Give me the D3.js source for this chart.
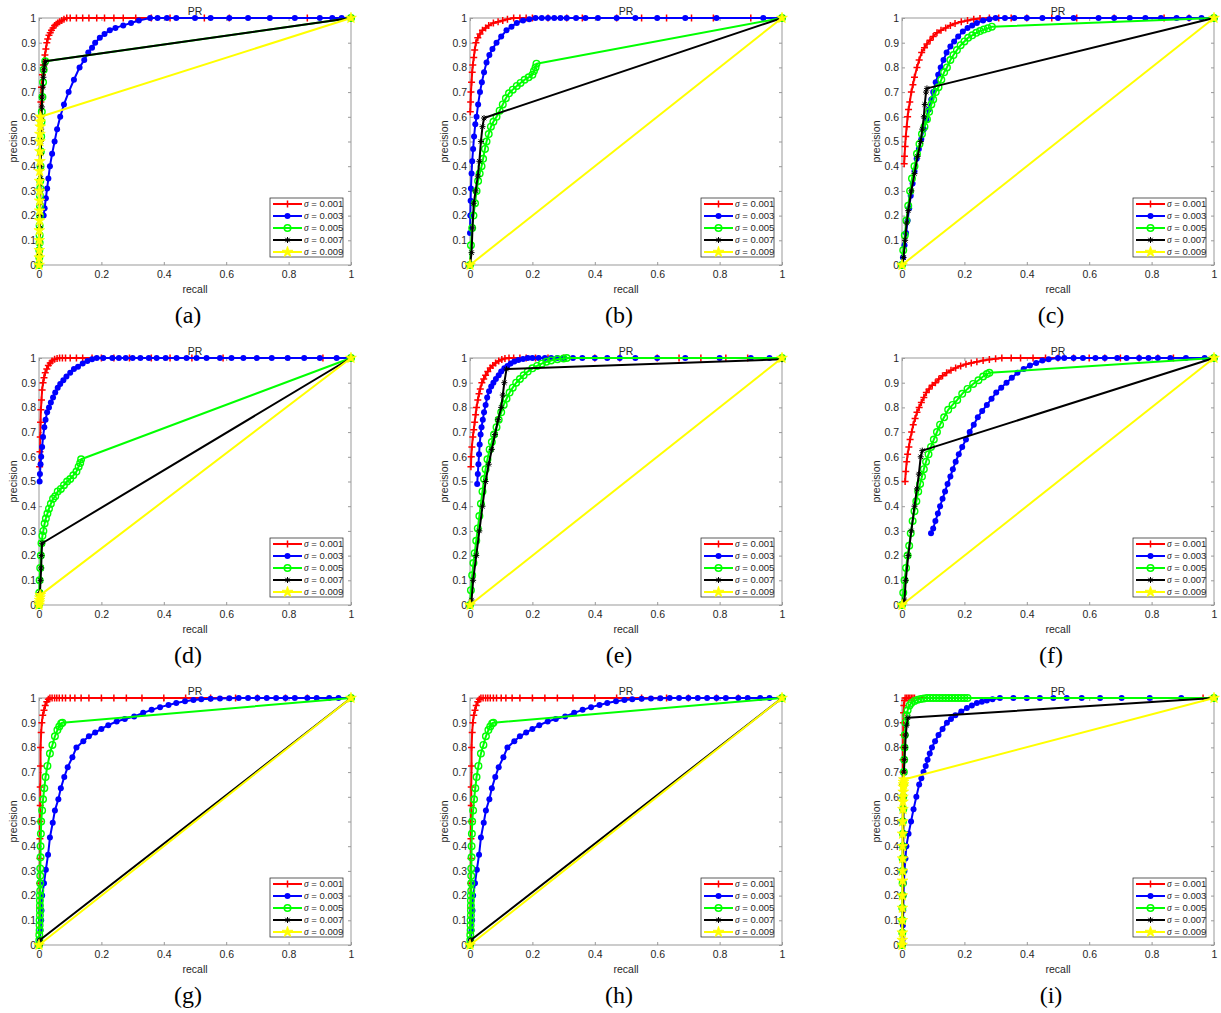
<!DOCTYPE html>
<html>
<head>
<meta charset="utf-8">
<script src="https://cdn.jsdelivr.net/npm/d3@7"></script>
<style>
body { margin: 0; background: #fff; }
svg { display: block; }
.tick text { font-family: "Liberation Sans", Arial, sans-serif; font-size: 10.5px; fill: #262626; }
.lbl { font-family: "Liberation Sans", Arial, sans-serif; font-size: 10.5px; fill: #262626; }
.leg { font-family: "Liberation Sans", Arial, sans-serif; font-size: 9.5px; fill: #262626; }
.sub { font-family: "Liberation Serif", "Times New Roman", serif; font-size: 24px; fill: #000; }
</style>
</head>
<body>
<svg width="1221" height="1013"></svg>
<script>
// [recall, precision] pairs
// (a)
const redA = [[0.004,0.6],[0.006,0.66],[0.008,0.72],[0.011,0.77],[0.014,0.81],[0.019,0.85],[0.022,0.875],[0.025,0.9],[0.028,0.915],[0.032,0.93],[0.036,0.94],[0.04,0.95],[0.045,0.96],[0.05,0.97],[0.055,0.975],[0.06,0.98],[0.066,0.985],[0.073,0.99],[0.08,0.995],[0.089,1],[0.1,1],[0.12,1],[0.14,1],[0.16,1],[0.185,1],[0.21,1],[0.24,1],[0.27,1],[0.31,1],[0.36,1],[0.42,1],[0.53,1],[0.61,1],[0.86,1],[1,1]];
const blueA = [[0.015,0.2],[0.018,0.23],[0.022,0.27],[0.026,0.31],[0.03,0.35],[0.035,0.4],[0.042,0.45],[0.05,0.5],[0.058,0.55],[0.068,0.6],[0.08,0.65],[0.095,0.7],[0.112,0.75],[0.13,0.8],[0.145,0.83],[0.158,0.86],[0.17,0.88],[0.18,0.9],[0.195,0.92],[0.21,0.935],[0.227,0.95],[0.245,0.96],[0.27,0.97],[0.295,0.98],[0.32,0.99],[0.356,1],[0.38,1],[0.41,1],[0.44,1],[0.5,1],[0.55,1],[0.61,1],[0.67,1],[0.74,1],[0.82,1],[0.9,1],[0.94,1],[0.97,1],[1,1]];
const greenA = [[0,0],[0.001,0.03],[0.001,0.06],[0.002,0.09],[0.002,0.12],[0.002,0.16],[0.003,0.2],[0.003,0.24],[0.003,0.28],[0.004,0.31],[0.004,0.34],[0.005,0.4],[0.006,0.46],[0.007,0.52],[0.008,0.58],[0.009,0.62],[0.011,0.68],[0.013,0.74],[0.015,0.79],[0.02,0.825],[1,1]];
const blackA = [[0,0],[0.001,0.05],[0.002,0.1],[0.003,0.15],[0.003,0.2],[0.004,0.25],[0.004,0.3],[0.005,0.35],[0.005,0.4],[0.006,0.45],[0.006,0.5],[0.007,0.55],[0.008,0.6],[0.009,0.64],[0.01,0.68],[0.012,0.72],[0.014,0.76],[0.016,0.79],[0.018,0.81],[0.02,0.825],[1,1]];
const yellowA = [[0,0],[0.001,0.03],[0.001,0.06],[0.001,0.1],[0.001,0.14],[0.002,0.18],[0.002,0.22],[0.002,0.26],[0.002,0.3],[0.002,0.34],[0.002,0.38],[0.003,0.42],[0.003,0.46],[0.003,0.5],[0.003,0.53],[0.004,0.56],[0.004,0.58],[0.005,0.6],[1,1]];

// (b)
const redB = [[0.001,0.62],[0.002,0.66],[0.003,0.7],[0.005,0.74],[0.007,0.78],[0.009,0.81],[0.012,0.84],[0.015,0.87],[0.019,0.9],[0.025,0.92],[0.032,0.935],[0.04,0.95],[0.05,0.96],[0.06,0.97],[0.075,0.98],[0.09,0.985],[0.105,0.99],[0.12,0.995],[0.14,1],[0.16,1],[0.18,1],[0.2,1],[0.25,1],[0.31,1],[0.36,1],[0.47,1],[0.55,1],[0.63,1],[0.71,1],[0.78,1],[0.9,1],[1,1]];
const blueB = [[0,0.13],[0.001,0.2],[0.002,0.26],[0.003,0.31],[0.005,0.37],[0.007,0.42],[0.01,0.47],[0.013,0.52],[0.017,0.57],[0.021,0.6],[0.026,0.65],[0.032,0.7],[0.038,0.74],[0.045,0.78],[0.053,0.82],[0.062,0.85],[0.072,0.875],[0.085,0.9],[0.1,0.925],[0.117,0.95],[0.133,0.965],[0.15,0.98],[0.17,0.99],[0.19,0.995],[0.21,1],[0.23,1],[0.25,1],[0.27,1],[0.29,1],[0.31,1],[0.34,1],[0.37,1],[0.41,1],[0.47,1],[0.53,1],[0.6,1],[0.69,1],[0.79,1],[0.94,1],[1,1]];
const greenB = [[0,0],[0.003,0.08],[0.007,0.15],[0.011,0.2],[0.016,0.25],[0.021,0.3],[0.026,0.34],[0.031,0.37],[0.037,0.4],[0.042,0.43],[0.048,0.47],[0.053,0.5],[0.06,0.53],[0.067,0.56],[0.075,0.58],[0.085,0.6],[0.095,0.625],[0.105,0.65],[0.115,0.675],[0.125,0.695],[0.137,0.71],[0.15,0.725],[0.162,0.737],[0.175,0.75],[0.188,0.76],[0.2,0.77],[0.205,0.785],[0.21,0.8],[0.213,0.815],[1,1]];
const blackB = [[0,0],[0.005,0.05],[0.008,0.15],[0.012,0.25],[0.018,0.3],[0.025,0.36],[0.03,0.42],[0.035,0.5],[0.04,0.56],[0.045,0.595],[1,1]];
const yellowB = [[0,0],[1,1]];

// (c)
const redC = [[0.007,0.41],[0.008,0.44],[0.01,0.48],[0.012,0.52],[0.015,0.56],[0.018,0.6],[0.021,0.63],[0.025,0.66],[0.03,0.7],[0.035,0.73],[0.04,0.76],[0.048,0.8],[0.055,0.83],[0.063,0.86],[0.072,0.88],[0.08,0.895],[0.09,0.91],[0.1,0.925],[0.112,0.94],[0.125,0.95],[0.14,0.96],[0.155,0.97],[0.17,0.978],[0.19,0.985],[0.21,0.99],[0.23,0.995],[0.25,0.998],[0.28,1],[0.31,1],[0.35,1],[0.4,1],[0.48,1],[0.56,1],[0.68,1],[0.84,1],[0.92,1],[1,1]];
const blueC = [[0.003,0.03],[0.008,0.08],[0.013,0.13],[0.018,0.18],[0.023,0.23],[0.028,0.28],[0.034,0.33],[0.04,0.38],[0.047,0.43],[0.054,0.47],[0.062,0.51],[0.07,0.55],[0.078,0.59],[0.086,0.63],[0.094,0.67],[0.1,0.7],[0.108,0.74],[0.116,0.77],[0.124,0.8],[0.133,0.83],[0.143,0.86],[0.155,0.885],[0.167,0.905],[0.18,0.925],[0.195,0.945],[0.21,0.96],[0.225,0.97],[0.24,0.98],[0.26,0.99],[0.28,0.995],[0.3,1],[0.33,1],[0.36,1],[0.4,1],[0.45,1],[0.5,1],[0.55,1],[0.63,1],[0.68,1],[0.73,1],[0.78,1],[0.83,1],[0.88,1],[0.92,1],[0.96,1],[1,1]];
const greenC = [[0,0],[0.004,0.06],[0.009,0.12],[0.014,0.18],[0.02,0.24],[0.026,0.3],[0.032,0.35],[0.04,0.4],[0.048,0.45],[0.056,0.49],[0.064,0.53],[0.072,0.56],[0.08,0.59],[0.087,0.62],[0.094,0.65],[0.1,0.67],[0.108,0.7],[0.117,0.72],[0.126,0.75],[0.135,0.78],[0.144,0.8],[0.155,0.83],[0.165,0.85],[0.176,0.87],[0.188,0.89],[0.2,0.905],[0.212,0.92],[0.225,0.93],[0.238,0.94],[0.25,0.947],[0.262,0.953],[0.275,0.958],[0.288,0.965],[1,1]];
const blackC = [[0,0],[0.005,0.03],[0.01,0.1],[0.015,0.17],[0.02,0.22],[0.03,0.3],[0.04,0.37],[0.05,0.44],[0.06,0.5],[0.065,0.55],[0.07,0.6],[0.073,0.65],[0.077,0.7],[0.08,0.715],[1,1]];
const yellowC = [[0,0],[1,1]];

// (d)
const redD = [[0.002,0.56],[0.003,0.62],[0.004,0.68],[0.005,0.74],[0.006,0.79],[0.008,0.83],[0.01,0.87],[0.013,0.9],[0.016,0.92],[0.02,0.94],[0.025,0.955],[0.03,0.97],[0.036,0.98],[0.042,0.988],[0.05,0.995],[0.058,0.998],[0.066,1],[0.075,1],[0.085,1],[0.1,1],[0.12,1],[0.14,1],[0.17,1],[0.2,1],[0.24,1],[0.29,1],[0.36,1],[0.42,1],[0.49,1],[0.59,1],[0.91,1],[1,1]];
const blueD = [[0.002,0.5],[0.003,0.53],[0.005,0.57],[0.007,0.6],[0.01,0.64],[0.013,0.68],[0.017,0.72],[0.021,0.75],[0.026,0.78],[0.032,0.8],[0.038,0.82],[0.045,0.84],[0.052,0.86],[0.06,0.88],[0.068,0.895],[0.078,0.91],[0.088,0.925],[0.1,0.94],[0.112,0.955],[0.125,0.965],[0.14,0.978],[0.155,0.988],[0.17,0.995],[0.185,1],[0.206,1],[0.235,1],[0.256,1],[0.278,1],[0.3,1],[0.325,1],[0.352,1],[0.377,1],[0.406,1],[0.441,1],[0.473,1],[0.505,1],[0.537,1],[0.58,1],[0.617,1],[0.655,1],[0.698,1],[0.746,1],[0.797,1],[0.85,1],[0.9,1],[0.954,1],[1,1]];
const greenD = [[0,0],[0.001,0.05],[0.002,0.1],[0.004,0.15],[0.006,0.2],[0.008,0.25],[0.011,0.28],[0.014,0.3],[0.018,0.33],[0.022,0.35],[0.027,0.37],[0.032,0.39],[0.038,0.41],[0.045,0.43],[0.052,0.44],[0.06,0.46],[0.07,0.47],[0.08,0.485],[0.09,0.5],[0.1,0.51],[0.11,0.525],[0.12,0.54],[0.127,0.56],[0.132,0.575],[0.135,0.59],[1,1]];
const blackD = [[0,0],[0.003,0.05],[0.005,0.1],[0.007,0.15],[0.008,0.2],[0.01,0.25],[1,1]];
const yellowD = [[0,0],[0.001,0.01],[0.002,0.02],[0.003,0.03],[0.004,0.04],[1,1]];

// (e)
const redE = [[0.003,0.56],[0.004,0.6],[0.006,0.64],[0.009,0.68],[0.012,0.71],[0.015,0.74],[0.018,0.77],[0.021,0.8],[0.025,0.83],[0.029,0.855],[0.033,0.875],[0.038,0.9],[0.044,0.915],[0.05,0.93],[0.057,0.945],[0.065,0.96],[0.073,0.97],[0.082,0.98],[0.092,0.988],[0.102,0.994],[0.112,0.998],[0.125,1],[0.14,1],[0.16,1],[0.18,1],[0.21,1],[0.25,1],[0.3,1],[0.4,1],[0.48,1],[0.6,1],[0.67,1],[0.74,1],[0.82,1],[0.89,1],[1,1]];
const blueE = [[0.023,0.49],[0.025,0.53],[0.027,0.57],[0.029,0.61],[0.031,0.65],[0.034,0.69],[0.037,0.72],[0.041,0.75],[0.045,0.78],[0.05,0.81],[0.055,0.84],[0.061,0.865],[0.068,0.885],[0.075,0.9],[0.083,0.915],[0.092,0.93],[0.1,0.945],[0.11,0.958],[0.12,0.968],[0.13,0.978],[0.142,0.986],[0.155,0.992],[0.17,0.996],[0.185,1],[0.2,1],[0.22,1],[0.24,1],[0.26,1],[0.28,1],[0.3,1],[0.33,1],[0.36,1],[0.4,1],[0.44,1],[0.48,1],[0.53,1],[0.6,1],[0.69,1],[0.8,1],[0.9,1],[0.96,1],[1,1]];
const greenE = [[0,0],[0.003,0.06],[0.007,0.12],[0.011,0.17],[0.015,0.21],[0.02,0.26],[0.025,0.31],[0.03,0.36],[0.035,0.41],[0.04,0.46],[0.045,0.51],[0.05,0.55],[0.056,0.59],[0.063,0.63],[0.07,0.66],[0.077,0.69],[0.085,0.72],[0.092,0.75],[0.1,0.78],[0.108,0.81],[0.117,0.835],[0.127,0.86],[0.137,0.88],[0.148,0.9],[0.16,0.915],[0.172,0.93],[0.185,0.945],[0.2,0.958],[0.215,0.968],[0.23,0.977],[0.245,0.985],[0.26,0.99],[0.28,0.995],[0.3,0.998],[0.31,1],[1,1]];
const blackE = [[0,0],[0.005,0.02],[0.01,0.1],[0.02,0.2],[0.03,0.3],[0.04,0.4],[0.05,0.5],[0.06,0.57],[0.07,0.63],[0.08,0.69],[0.09,0.75],[0.1,0.8],[0.105,0.85],[0.11,0.9],[0.117,0.955],[1,0.995]];
const yellowE = [[0,0],[1,1]];

// (f)
const redF = [[0.01,0.5],[0.012,0.54],[0.015,0.58],[0.018,0.61],[0.022,0.64],[0.026,0.67],[0.031,0.7],[0.036,0.73],[0.042,0.755],[0.048,0.78],[0.055,0.8],[0.062,0.82],[0.07,0.84],[0.078,0.86],[0.087,0.875],[0.097,0.89],[0.107,0.9],[0.118,0.915],[0.13,0.928],[0.143,0.94],[0.157,0.95],[0.172,0.96],[0.188,0.968],[0.205,0.975],[0.222,0.98],[0.24,0.985],[0.26,0.99],[0.28,0.994],[0.3,0.997],[0.32,1],[0.35,1],[0.38,1],[0.42,1],[0.46,1],[0.5,1],[0.55,1],[0.6,1],[0.65,1],[0.7,1],[0.76,1],[0.82,1],[0.87,1],[1,1]];
const blueF = [[0.093,0.29],[0.1,0.31],[0.107,0.34],[0.115,0.37],[0.122,0.4],[0.13,0.43],[0.138,0.46],[0.146,0.49],[0.155,0.52],[0.163,0.55],[0.172,0.58],[0.182,0.61],[0.193,0.64],[0.205,0.67],[0.217,0.7],[0.23,0.73],[0.243,0.76],[0.257,0.785],[0.272,0.81],[0.287,0.835],[0.302,0.86],[0.318,0.88],[0.335,0.9],[0.352,0.92],[0.37,0.94],[0.39,0.955],[0.41,0.97],[0.43,0.98],[0.45,0.99],[0.47,0.995],[0.5,1],[0.52,1],[0.55,1],[0.58,1],[0.62,1],[0.65,1],[0.69,1],[0.72,1],[0.76,1],[0.79,1],[0.82,1],[0.86,1],[0.91,1],[0.97,1],[1,1]];
const greenF = [[0,0],[0.004,0.05],[0.008,0.1],[0.013,0.15],[0.018,0.2],[0.023,0.24],[0.028,0.29],[0.034,0.34],[0.04,0.38],[0.046,0.42],[0.052,0.46],[0.058,0.49],[0.064,0.52],[0.07,0.55],[0.077,0.58],[0.085,0.61],[0.093,0.64],[0.102,0.67],[0.112,0.7],[0.122,0.73],[0.135,0.76],[0.148,0.79],[0.162,0.81],[0.177,0.83],[0.193,0.855],[0.21,0.875],[0.228,0.895],[0.245,0.91],[0.26,0.925],[0.272,0.935],[0.28,0.94],[1,1]];
const blackF = [[0,0],[0.008,0.02],[0.012,0.1],[0.02,0.2],[0.03,0.3],[0.04,0.4],[0.048,0.47],[0.054,0.53],[0.06,0.6],[0.065,0.625],[1,1]];
const yellowF = [[0,0],[1,1]];

// (g) and (h) read the same in the picture
const redG = [[0.001,0.05],[0.002,0.15],[0.002,0.25],[0.003,0.35],[0.003,0.43],[0.003,0.5],[0.004,0.565],[0.004,0.64],[0.005,0.725],[0.005,0.8],[0.007,0.86],[0.009,0.9],[0.012,0.93],[0.016,0.95],[0.02,0.97],[0.025,0.985],[0.03,0.995],[0.035,1],[0.042,1],[0.05,1],[0.057,1],[0.065,1],[0.075,1],[0.085,1],[0.1,1],[0.115,1],[0.135,1],[0.16,1],[0.2,1],[0.24,1],[0.28,1],[0.33,1],[0.4,1],[0.47,1],[0.55,1],[0.63,1],[0.7,1],[0.79,1],[0.86,1],[1,1]];
const blueG = [[0.003,0.02],[0.005,0.06],[0.007,0.1],[0.008,0.14],[0.01,0.2],[0.016,0.25],[0.022,0.305],[0.029,0.365],[0.035,0.435],[0.044,0.495],[0.051,0.545],[0.062,0.59],[0.07,0.635],[0.081,0.68],[0.092,0.72],[0.107,0.76],[0.12,0.8],[0.142,0.825],[0.16,0.845],[0.18,0.86],[0.2,0.875],[0.222,0.89],[0.249,0.905],[0.275,0.915],[0.305,0.925],[0.334,0.94],[0.361,0.952],[0.388,0.963],[0.415,0.972],[0.44,0.98],[0.468,0.987],[0.495,0.992],[0.52,0.995],[0.55,0.997],[0.58,0.998],[0.61,0.999],[0.64,1],[0.67,1],[0.7,1],[0.73,1],[0.76,1],[0.79,1],[0.82,1],[0.86,1],[0.89,1],[0.93,1],[0.96,1],[1,1]];
const greenG = [[0,0],[0.001,0.02],[0.001,0.04],[0.002,0.06],[0.002,0.08],[0.002,0.1],[0.003,0.12],[0.003,0.14],[0.003,0.16],[0.003,0.18],[0.003,0.2],[0.004,0.22],[0.004,0.25],[0.004,0.28],[0.004,0.31],[0.005,0.355],[0.005,0.4],[0.006,0.45],[0.007,0.5],[0.01,0.545],[0.013,0.59],[0.017,0.635],[0.021,0.68],[0.027,0.725],[0.035,0.775],[0.043,0.81],[0.051,0.845],[0.059,0.87],[0.065,0.885],[0.071,0.897],[0.075,0.9],[1,1]];
const blackG = [[0.002,0],[0.003,0.02],[1,1]];
const yellowG = [[0,0],[1,1]];

// (i)
const redI = [[0.002,0.55],[0.002,0.6],[0.003,0.65],[0.003,0.7],[0.003,0.75],[0.003,0.8],[0.004,0.85],[0.004,0.9],[0.005,0.94],[0.006,0.97],[0.008,0.99],[0.01,1],[0.015,1],[0.02,1],[0.025,1],[0.03,1],[0.035,1],[0.04,1],[0.965,1],[1,1]];
const blueI = [[0.002,0.02],[0.003,0.08],[0.004,0.14],[0.005,0.2],[0.006,0.25],[0.008,0.3],[0.011,0.35],[0.014,0.4],[0.021,0.45],[0.029,0.5],[0.037,0.55],[0.046,0.6],[0.055,0.65],[0.062,0.675],[0.069,0.7],[0.076,0.725],[0.082,0.75],[0.089,0.775],[0.096,0.8],[0.106,0.825],[0.117,0.85],[0.13,0.875],[0.144,0.9],[0.157,0.915],[0.171,0.93],[0.19,0.945],[0.208,0.96],[0.224,0.97],[0.24,0.98],[0.256,0.985],[0.272,0.99],[0.29,0.995],[0.314,1],[0.357,1],[0.4,1],[0.442,1],[0.485,1],[0.528,1],[0.576,1],[0.635,1],[0.704,1],[0.794,1],[0.895,1],[1,1]];
const greenI = [[0,0],[0.001,0.05],[0.001,0.1],[0.001,0.15],[0.002,0.2],[0.002,0.25],[0.002,0.3],[0.002,0.35],[0.003,0.4],[0.003,0.45],[0.003,0.5],[0.004,0.55],[0.004,0.6],[0.005,0.65],[0.006,0.7],[0.007,0.75],[0.008,0.8],[0.009,0.85],[0.011,0.9],[0.014,0.93],[0.018,0.95],[0.024,0.97],[0.03,0.98],[0.04,0.988],[0.05,0.993],[0.06,0.996],[0.07,0.998],[0.08,1],[0.09,1],[0.1,1],[0.11,1],[0.12,1],[0.13,1],[0.14,1],[0.15,1],[0.16,1],[0.17,1],[0.18,1],[0.19,1],[0.2,1],[0.21,1],[1,1]];
const blackI = [[0.002,0],[0.003,0.2],[0.004,0.4],[0.005,0.6],[0.006,0.7],[0.008,0.75],[0.01,0.8],[0.012,0.85],[0.015,0.89],[0.019,0.92],[1,1]];
const yellowI = [[0,0],[0.001,0.02],[0.001,0.05],[0.001,0.1],[0.001,0.15],[0.001,0.2],[0.002,0.26],[0.002,0.3],[0.002,0.35],[0.002,0.4],[0.002,0.45],[0.002,0.5],[0.003,0.55],[0.003,0.58],[0.003,0.6],[0.004,0.62],[0.004,0.64],[0.005,0.65],[0.005,0.66],[0.006,0.67],[1,1]];

const sigmas = ["0.001", "0.003", "0.005", "0.007", "0.009"];
const panelLetters = ["(a)", "(b)", "(c)", "(d)", "(e)", "(f)", "(g)", "(h)", "(i)"];
const xTicks = [0, 0.2, 0.4, 0.6, 0.8, 1];
const yTicks = [0, 0.1, 0.2, 0.3, 0.4, 0.5, 0.6, 0.7, 0.8, 0.9, 1];

const panelData = [
    [redA, blueA, greenA, blackA, yellowA],
    [redB, blueB, greenB, blackB, yellowB],
    [redC, blueC, greenC, blackC, yellowC],
    [redD, blueD, greenD, blackD, yellowD],
    [redE, blueE, greenE, blackE, yellowE],
    [redF, blueF, greenF, blackF, yellowF],
    [redG, blueG, greenG, blackG, yellowG],
    [redG, blueG, greenG, blackG, yellowG],
    [redI, blueI, greenI, blackI, yellowI]
];

const styles = [
    { color: "#ff0000", marker: "plus" },
    { color: "#0000ff", marker: "dot" },
    { color: "#00ff00", marker: "circle" },
    { color: "#000000", marker: "asterisk" },
    { color: "#ffff00", marker: "star" }
];

const svg = d3.select("svg");
const cols = [39, 470, 902];
const rows = [18, 358, 698];
const pw = 312, ph = 247;

const x = d3.scaleLinear().domain([0, 1]).range([0, pw]);
const y = d3.scaleLinear().domain([0, 1]).range([ph, 0]);
const line = d3.line().x(d => x(d[0])).y(d => y(d[1]));
const starPath = d3.symbol(d3.symbolStar, 36)();

function drawMarker(g, type, color, cx, cy) {
    const t = `translate(${cx},${cy})`;
    if (type === "plus") {
        g.append("path").attr("transform", t)
            .attr("d", "M-3.5,0H3.5M0,-3.5V3.5")
            .attr("stroke", color).attr("stroke-width", 1.5).attr("fill", "none");
    } else if (type === "dot") {
        g.append("circle").attr("transform", t).attr("r", 3).attr("fill", color);
    } else if (type === "circle") {
        g.append("circle").attr("transform", t).attr("r", 3.3)
            .attr("fill", "none").attr("stroke", color).attr("stroke-width", 1.4);
    } else if (type === "asterisk") {
        g.append("path").attr("transform", t)
            .attr("d", "M-3,0H3M0,-3V3M-2.2,-2.2L2.2,2.2M-2.2,2.2L2.2,-2.2")
            .attr("stroke", color).attr("stroke-width", 1).attr("fill", "none");
    } else {
        g.append("path").attr("transform", t).attr("d", starPath)
            .attr("fill", color).attr("stroke", color).attr("stroke-width", 0.8);
    }
}

panelData.forEach((series, i) => {
    const g = svg.append("g")
        .attr("transform", `translate(${cols[i % 3]},${rows[Math.floor(i / 3)]})`);

    // axes with inward ticks on all four sides
    g.append("g").attr("transform", `translate(0,${ph})`)
        .call(d3.axisBottom(x).tickValues(xTicks).tickSize(-3).tickPadding(6).tickFormat(d => String(d)))
        .call(a => a.select(".domain").remove())
        .call(a => a.selectAll("line").attr("stroke", "#999"));
    g.append("g")
        .call(d3.axisLeft(y).tickValues(yTicks).tickSize(-3).tickPadding(3).tickFormat(d => String(d)))
        .call(a => a.select(".domain").remove())
        .call(a => a.selectAll("line").attr("stroke", "#999"));
    g.append("g")
        .call(d3.axisTop(x).tickValues(xTicks).tickSize(-3).tickFormat(""))
        .call(a => a.select(".domain").remove())
        .call(a => a.selectAll("line").attr("stroke", "#999"));
    g.append("g").attr("transform", `translate(${pw},0)`)
        .call(d3.axisRight(y).tickValues(yTicks).tickSize(-3).tickFormat(""))
        .call(a => a.select(".domain").remove())
        .call(a => a.selectAll("line").attr("stroke", "#999"));
    g.append("rect").attr("width", pw).attr("height", ph)
        .attr("fill", "none").attr("stroke", "#999").attr("stroke-width", 1);

    // curves
    series.forEach((pts, s) => {
        const st = styles[s];
        g.append("path").datum(pts).attr("d", line)
            .attr("fill", "none").attr("stroke", st.color).attr("stroke-width", 2)
            .attr("stroke-linejoin", "round");
        pts.forEach(p => drawMarker(g, st.marker, st.color, x(p[0]), y(p[1])));
    });

    // labels
    g.append("text").attr("class", "lbl").attr("x", pw / 2).attr("y", -3)
        .attr("text-anchor", "middle").text("PR");
    g.append("text").attr("class", "lbl").attr("x", pw / 2).attr("y", ph + 28)
        .attr("text-anchor", "middle").text("recall");
    g.append("text").attr("class", "lbl")
        .attr("transform", `translate(-22,${ph / 2}) rotate(-90)`)
        .attr("text-anchor", "middle").text("precision");
    g.append("text").attr("class", "sub").attr("x", pw / 2 - 7).attr("y", ph + 58)
        .attr("text-anchor", "middle").text(panelLetters[i]);

    // legend
    const lg = g.append("g").attr("transform", `translate(${pw - 81},${ph - 67})`);
    lg.append("rect").attr("width", 73).attr("height", 59)
        .attr("fill", "#fff").attr("stroke", "#262626").attr("stroke-width", 0.75);
    sigmas.forEach((sv, s) => {
        const ly = 6 + s * 12;
        const st = styles[s];
        lg.append("line").attr("x1", 3).attr("x2", 32).attr("y1", ly).attr("y2", ly)
            .attr("stroke", st.color).attr("stroke-width", 2);
        drawMarker(lg, st.marker, st.color, 17.5, ly);
        const tx = lg.append("text").attr("class", "leg").attr("x", 34).attr("y", ly).attr("dy", "0.35em");
        tx.append("tspan").attr("font-family", "'Liberation Serif', serif").attr("font-style", "italic").text("σ");
        tx.append("tspan").text(" = " + sv);
    });
});
</script>
</body>
</html>
